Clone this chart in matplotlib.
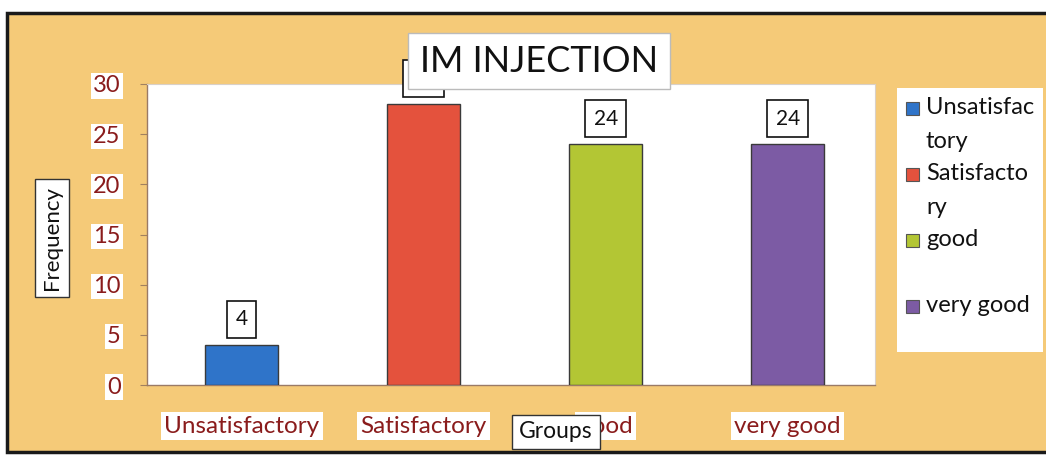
import matplotlib
matplotlib.use("Agg")
import matplotlib.pyplot as plt
from matplotlib.patches import Rectangle

# Data
categories = ["Unsatisfactory", "Satisfactory", "good", "very good"]
frequencies = [4, 28, 24, 24]
legend_labels = ["Unsatisfac\ntory", "Satisfacto\nry", "good", "very good"]
y_ticks = [0, 5, 10, 15, 20, 25, 30]

bar_colors = ["#2f74c9", "#e4523d", "#b3c634", "#7c5ba4"]
tick_red = "#8a1c1c"
bg = "#f5ca78"
FONT = "Lato"

W, H = 1046, 459
fig = plt.figure(figsize=(W / 100, H / 100), dpi=100)
fig.patch.set_facecolor("white")

# Orange chart area with a dark frame
fig.patches.append(Rectangle((7 / W, 1 - 452 / H), 1.0, (452 - 13) / H,
                             transform=fig.transFigure, facecolor=bg,
                             edgecolor="#1a1a1a", linewidth=2.5, zorder=-5))

ax = fig.add_axes([147 / W, 1 - 385 / H, (875 - 147) / W, (385 - 84) / H])
ax.set_zorder(1)
ax.set_facecolor("white")
x = list(range(len(categories)))
ax.bar(x, frequencies, width=0.4, color=bar_colors, edgecolor="#3a3a3a",
       linewidth=1.0, zorder=3)
ax.set_xlim(-0.52, len(categories) - 0.52)
ax.set_ylim(0, 30)
ax.set_yticks(y_ticks)
ax.set_yticklabels([str(v) for v in y_ticks])
ax.set_xticks(x)
ax.set_xticklabels(categories)

for lab in ax.get_yticklabels():
    lab.set_fontfamily(FONT)
    lab.set_fontsize(17)
    lab.set_color(tick_red)
    lab.set_bbox(dict(facecolor="white", edgecolor="none", pad=1.5))
for lab in ax.get_xticklabels():
    lab.set_fontfamily(FONT)
    lab.set_fontsize(17.5)
    lab.set_color(tick_red)
    lab.set_bbox(dict(facecolor="white", edgecolor="none", pad=2.5))
ax.tick_params(axis="y", length=5, color="#a08060", pad=14)
ax.tick_params(axis="x", length=0, pad=22)

for s in ["top", "right"]:
    ax.spines[s].set_color("#d9d0c8")
    ax.spines[s].set_linewidth(0.8)
for s in ["left", "bottom"]:
    ax.spines[s].set_color("#9a7a66")
    ax.spines[s].set_linewidth(1.0)

# Value labels above bars
for xi, v in zip(x, frequencies):
    ax.annotate(str(v), (xi, v), xytext=(0, 18.5), textcoords="offset points",
                ha="center", va="center", fontsize=15, fontfamily=FONT,
                color="#111111", annotation_clip=False, zorder=4,
                bbox=dict(facecolor="white", edgecolor="#111111",
                          linewidth=1.2, boxstyle="square,pad=0.4"))

# Title
fig.text(539 / W, 1 - 61 / H, "IM INJECTION", ha="center", va="center",
         fontsize=26, fontfamily=FONT, color="#111111", zorder=10,
         bbox=dict(facecolor="white", edgecolor="#bbbbbb", linewidth=1.0,
                   boxstyle="square,pad=0.33"))

# Axis titles
fig.text(52 / W, 1 - 238 / H, "Frequency", rotation=90, ha="center",
         va="center", fontsize=16, fontfamily=FONT, color="#111111",
         zorder=10, bbox=dict(facecolor="white", edgecolor="#333333",
                              linewidth=1.0, boxstyle="square,pad=0.3"))
fig.text(556 / W, 1 - 432 / H, "Groups", ha="center", va="center",
         fontsize=16.5, fontfamily=FONT, color="#111111", zorder=10,
         bbox=dict(facecolor="white", edgecolor="#333333", linewidth=1.0,
                   boxstyle="square,pad=0.3"))

# Legend panel
fig.patches.append(Rectangle((897 / W, 1 - 352 / H), (1043 - 897) / W,
                             (352 - 88) / H, transform=fig.transFigure,
                             facecolor="white", edgecolor="none", zorder=5))
slot = 66
for i, (lab, col) in enumerate(zip(legend_labels, bar_colors)):
    ytop = 108 + i * slot
    fig.patches.append(Rectangle((906 / W, 1 - (ytop + 7) / H), 13 / W, 13 / H,
                                 transform=fig.transFigure, facecolor=col,
                                 edgecolor="#555555", linewidth=0.8, zorder=6))
    fig.text(926 / W, 1 - (ytop - 11) / H, lab, ha="left", va="top",
             fontsize=17, fontfamily=FONT, color="#111111", zorder=6,
             linespacing=1.75)

fig.savefig("out.png", dpi=100, facecolor=fig.get_facecolor())
